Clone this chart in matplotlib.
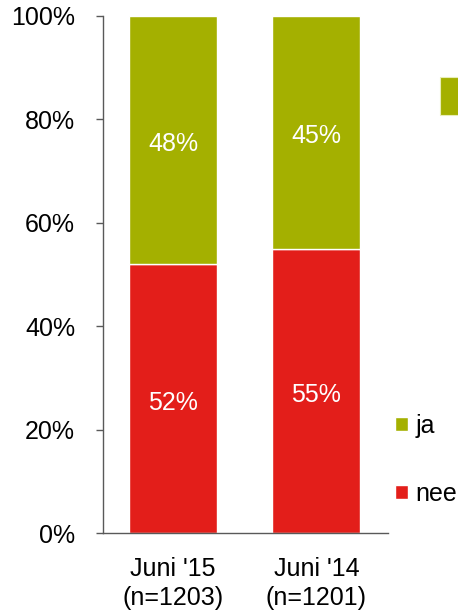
import numpy as np
import matplotlib
matplotlib.use("Agg")
from matplotlib import pyplot as plt
from matplotlib.patches import Rectangle

plt.rcParams['font.family'] = ['Liberation Sans', 'DejaVu Sans']

# Data
categories = ["Juni '15\n(n=1203)", "Juni '14\n(n=1201)"]
nee = [52, 55]
ja = [48, 45]

groen = "#A4B000"
rood = "#E31E1A"
grijs = "#595959"

fig = plt.figure(figsize=(4.58, 6.10), dpi=100)
ax = fig.add_axes([0.2249, 0.1262, 0.6223, 0.8476])

x = np.arange(len(categories))
b_nee = ax.bar(x, nee, width=0.615, color=rood, edgecolor="white", linewidth=1.0, label="nee")
b_ja = ax.bar(x, ja, width=0.615, bottom=nee, color=groen, edgecolor="white", linewidth=1.0, label="ja")

# percentages in the middle of each segment
for rects, vals, bottoms in [(b_nee, nee, [0, 0]), (b_ja, ja, nee)]:
    for r, v, b in zip(rects, vals, bottoms):
        ax.text(r.get_x() + r.get_width() / 2, b + v / 2 - 0.8, f"{v}%",
                ha="center", va="center", color="white", fontsize=18)

ax.set_xlim(-0.49, 1.5)
ax.set_ylim(0, 100)
ax.set_yticks(np.arange(0, 101, 20))
ax.set_yticklabels([f"{v}%" for v in range(0, 101, 20)])
ax.set_xticks(x)
ax.set_xticklabels(categories, fontsize=18, linespacing=1.3)

for s in ["top", "right"]:
    ax.spines[s].set_visible(False)
for s in ["left", "bottom"]:
    ax.spines[s].set_color(grijs)
    ax.spines[s].set_linewidth(1.0)

ax.tick_params(axis="y", length=5, width=1.0, color=grijs, pad=15, labelsize=18)
ax.tick_params(axis="x", length=0, pad=17)

# legend, ja above nee
handles, labels = ax.get_legend_handles_labels()
ax.legend(handles[::-1], labels[::-1], loc="upper left", bbox_to_anchor=(0.99, 0.25),
          frameon=False, fontsize=18, handlelength=0.5, handleheight=0.5,
          handletextpad=0.3, labelspacing=1.75, borderaxespad=0)

# green block at right edge
fig.patches.append(Rectangle((440 / 458, 1 - 115 / 610), 0.05, 38 / 610,
                             transform=fig.transFigure, facecolor=groen,
                             edgecolor="#E8EDB8", linewidth=0.8))

fig.savefig("out.png", dpi=100)
